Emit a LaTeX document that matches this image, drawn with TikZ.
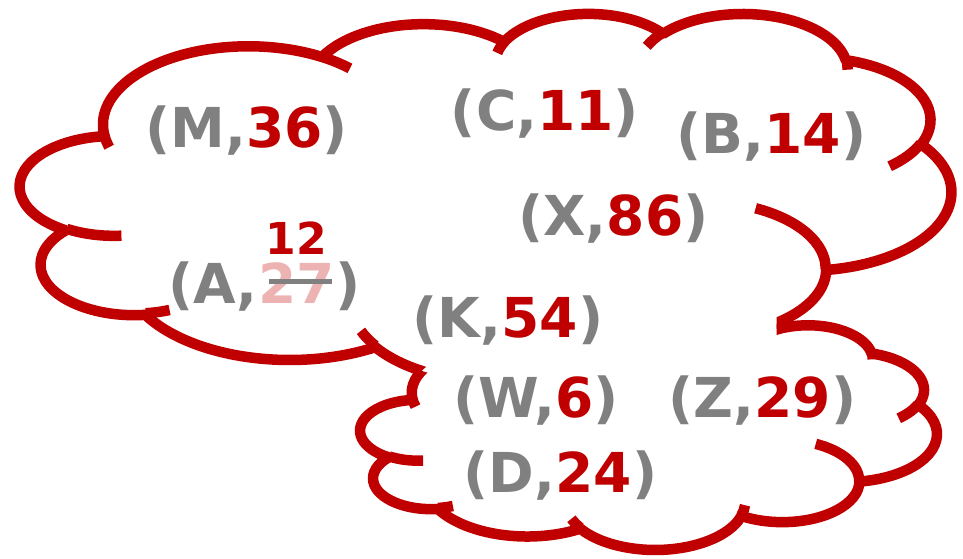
\documentclass[tikz,border=0pt]{standalone}
\usepackage{fontspec}
\setmainfont{DejaVu Sans}
\definecolor{cred}{HTML}{C00000}
\definecolor{cgray}{HTML}{808080}
\definecolor{cpink}{HTML}{EDB3B3}
\makeatletter
\newcommand\clipwith[1]{\pgfsyssoftpath@setcurrentpath#1\pgfusepath{clip}}
\makeatother
\newcommand\ooang[4]{%
  \pgfmathsetmacro\ooT{atan2((#1)*sin(#3),(#2)*cos(#3))}%
  \pgfmathsetmacro\ooU{atan2((#1)*sin((#3)+(#4)),(#2)*cos((#3)+(#4)))}%
  \pgfmathsetmacro\ooD{mod(\ooU-(\ooT)+720,360)}%
  \pgfmathsetmacro\ooS{0-(\ooT)}%
  \pgfmathsetmacro\ooN{0-(\ooD)}%
  \pgfmathsetmacro\ooRX{\csx*(#1)}%
  \pgfmathsetmacro\ooRY{\csy*(#2)}%
}
\newcommand\cloudset[4]{\def\cax{#1}\def\cay{#2}\def\csx{#3}\def\csy{#4}}
\newcommand\setupper{\cloudset{20.3}{12.7}{21.545}{8.518}}
\newcommand\setlower{\cloudset{360.5}{324.5}{13.339}{5.2}}
\tikzset{
  mv/.style 2 args={/utils/exec={\pgfmathsetmacro\mvx{\cax+\csx*(#1)}\pgfmathsetmacro\mvy{0-\cay-\csy*(#2)}},
    insert path={(\mvx pt,\mvy pt)}},
  ooa/.style n args={4}{/utils/exec={\ooang{#1}{#2}{#3}{#4}},
    insert path={arc[start angle=\ooS, delta angle=\ooN, x radius=\ooRX pt, y radius=\ooRY pt]}},
  cloudpath/.style={insert path={[mv={3.9}{14.37}]
    [ooa={6.753}{9.19}{-190.4875}{123.7805}]
    [ooa={5.333}{7.267}{-144.1024}{89.9452}]
    [ooa={4.365}{5.945}{-145.8079}{99.7230}]
    [ooa={4.857}{6.595}{-130.9861}{117.2417}]
    [ooa={5.333}{7.273}{-78.7089}{109.0269}]
    [ooa={6.775}{9.22}{-46.2673}{130.2690}]
    [ooa={5.785}{7.867}{0.6250}{114.0333}]
    [ooa={6.752}{9.215}{22.4516}{115.1726}]
    [ooa={7.72}{10.543}{66.2426}{75.7110}]
    [ooa={4.36}{5.918}{-274.9421}{146.7356}]
    [ooa={4.345}{5.945}{-246.8285}{152.5189}] -- cycle}},
  tka/.style={insert path={[mv={4.693}{26.177}] [ooa={4.345}{5.945}{86.742}{26.4295}]}},
  tkb/.style={insert path={[mv={6.928}{34.899}] [ooa={4.36}{5.918}{73.6105}{11.4475}]}},
  tkc/.style={insert path={[mv={16.478}{39.09}] [ooa={6.752}{9.215}{137.6242}{14.0811}]}},
  tkd/.style={insert path={[mv={28.827}{34.751}] [ooa={6.752}{9.215}{6.4533}{15.9984}]}},
  tke/.style={insert path={[mv={34.129}{22.954}] [ooa={5.785}{7.867}{-70.2924}{70.9174}]}},
  tkf/.style={insert path={[mv={41.798}{15.354}] [ooa={5.333}{7.273}{30.318}{27.7515}]}},
  tkg/.style={insert path={[mv={38.324}{5.426}] [ooa={4.857}{6.595}{-13.7443}{14.8589}]}},
  tkh/.style={insert path={[mv={29.078}{3.952}] [ooa={4.857}{6.595}{-149.1815}{18.1954}]}},
  tki/.style={insert path={[mv={22.141}{4.72}] [ooa={4.365}{5.945}{-163.4943}{17.6864}]}},
  tkj/.style={insert path={[mv={14}{5.192}] [ooa={6.753}{9.19}{-66.707}{12.3194}]}},
  tkk/.style={insert path={[mv={4.127}{15.789}] [ooa={6.753}{9.19}{157.6544}{11.8582}]}},
  cloudline/.style={draw=cred, line width=10.5pt, line join=bevel},
  lbl/.style={inner sep=0pt, text=cgray, font=\fontsize{55pt}{60pt}\selectfont\bfseries},
  frameccw/.style={insert path={(0pt,0pt) -- (0pt,-558pt) -- (963pt,-558pt) -- (963pt,0pt) -- cycle}},
  holecw/.style={insert path={(560pt,-300pt) -- (776.5pt,-300pt) -- (776.5pt,-352pt) -- (560pt,-352pt) -- cycle}},
}
\begin{document}
\begin{tikzpicture}
\useasboundingbox (0pt,0pt) rectangle (963pt,-558pt);
% upper cloud outline, hidden inside the lower cloud
\begin{scope}
  \setlower
  \path[save path=\cpA] [frameccw] [cloudpath];
  \clipwith\cpA
  \path[save path=\cpB] [frameccw] [holecw];
  \clipwith\cpB
  \setupper
  \draw[cloudline] [cloudpath];
\end{scope}
% lower cloud outline, hidden inside the upper cloud
\begin{scope}
  \setupper
  \path[save path=\cpA] [frameccw] [cloudpath];
  \clipwith\cpA
  \path[save path=\cpB] [frameccw] [holecw];
  \clipwith\cpB
  \setlower
  \draw[cloudline] [cloudpath];
\end{scope}
% inner arcs
\begin{scope}
  \setupper
  \draw[cloudline] [tka] [tkb] [tkc] [tke] [tkf] [tkg] [tkh] [tki] [tkj] [tkk];
\end{scope}
\begin{scope}
  \setlower
  \draw[cloudline] [tka] [tkb] [tkc] [tkd] [tke] [tkf] [tkg] [tkk];
\end{scope}
% labels
\node[lbl, anchor=base] (m) at (246.5pt,-147pt) {(M,\textcolor{cred}{36})};
\node[lbl, anchor=base] (c) at (545pt,-130pt) {(C,\textcolor{cred}{11})};
\node[lbl, anchor=base] (b) at (771.5pt,-153pt) {(B,\textcolor{cred}{14})};
\node[lbl, anchor=base] (x) at (613.5pt,-235pt) {(X,\textcolor{cred}{86})};
\node[lbl, anchor=base] (k) at (508pt,-337pt) {(K,\textcolor{cred}{54})};
\node[lbl, anchor=base] (w) at (536pt,-417pt) {(W,\textcolor{cred}{6})};
\node[lbl, anchor=base] (z) at (762.5pt,-417pt) {(Z,\textcolor{cred}{29})};
\node[lbl, anchor=base] (d) at (560.5pt,-492pt) {(D,\textcolor{cred}{24})};
\node[lbl, anchor=base west] (a1) at (168pt,-303pt) {(A,};
\node[lbl, anchor=base west, text=cpink] (a2) at (a1.base east) {27};
\node[lbl, anchor=base west] (a3) at (a2.base east) {)};
\draw[cgray, line width=5pt] ([shift={(11pt,21.5pt)}]a2.base west) -- ([shift={(-3pt,21.5pt)}]a2.base east);
\node[inner sep=0pt, anchor=base, text=cred, font=\fontsize{44pt}{48pt}\selectfont\bfseries] (n12) at ([yshift=49pt]a2.base) {12};
\end{tikzpicture}
\end{document}
